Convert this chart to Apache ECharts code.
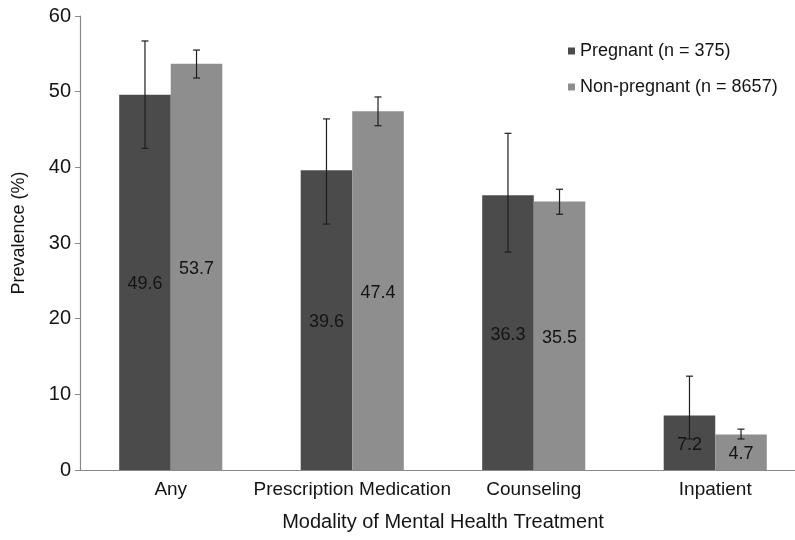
<!DOCTYPE html>
<html>
<head>
<meta charset="utf-8">
<script src="https://cdn.jsdelivr.net/npm/echarts@6/dist/echarts.min.js"></script>
<style>
  html, body { margin: 0; padding: 0; background: #fff; }
  #chart { width: 795px; height: 540px; }
</style>
</head>
<body>
<div id="chart"></div>
<script>
// Treatment modalities and prevalence (%) with 95% confidence limits
const categories = ['Any', 'Prescription Medication', 'Counseling', 'Inpatient'];
const seriesNames = ['Pregnant (n = 375)', 'Non-pregnant (n = 8657)'];
const pregnant = [49.6, 39.6, 36.3, 7.2];
const nonPregnant = [53.7, 47.4, 35.5, 4.7];
const pregnantLow = [42.5, 32.5, 28.8, 4.1];
const pregnantHigh = [56.7, 46.4, 44.5, 12.4];
const nonPregnantLow = [51.8, 45.5, 33.8, 4.1];
const nonPregnantHigh = [55.5, 49.3, 37.1, 5.4];

const FONT = '"Liberation Sans", Arial, Helvetica, sans-serif';
const TEXT = '#141414';
const DARK = '#4b4b4b';
const LIGHT = '#8e8e8e';
const BAR_FRACTION = 0.284; // bar width as a share of the category band

function errorData(low, high) {
  return categories.map((c, i) => [i, low[i], high[i]]);
}

// Draws a capped vertical whisker over the bar on one side of the band
function whisker(side) {
  return function (params, api) {
    const idx = api.value(0);
    const band = api.size([1, 0])[0];
    const cx = api.coord([idx, 0])[0] + side * band * BAR_FRACTION / 2;
    const yLo = api.coord([idx, api.value(1)])[1];
    const yHi = api.coord([idx, api.value(2)])[1];
    const cap = 3.5;
    const style = { stroke: '#1e1e1e', lineWidth: 1.2 };
    return {
      type: 'group',
      children: [
        { type: 'line', shape: { x1: cx, y1: yLo, x2: cx, y2: yHi }, style },
        { type: 'line', shape: { x1: cx - cap, y1: yHi, x2: cx + cap, y2: yHi }, style },
        { type: 'line', shape: { x1: cx - cap, y1: yLo, x2: cx + cap, y2: yLo }, style }
      ]
    };
  };
}

const labelStyle = {
  show: true,
  position: 'inside',
  offset: [0, 2],
  fontFamily: FONT,
  fontSize: 18,
  color: TEXT,
  formatter: p => p.value.toFixed(1)
};

const chart = echarts.init(document.getElementById('chart'), null, { renderer: 'canvas' });
chart.setOption({
  backgroundColor: '#ffffff',
  animation: false,
  textStyle: { fontFamily: FONT },
  grid: { left: 80, top: 16, bottom: 70, width: 726, outerBoundsMode: 'none', containLabel: false },
  legend: {
    orient: 'vertical',
    left: 563,
    top: 37,
    icon: 'rect',
    itemWidth: 7,
    itemHeight: 7,
    itemGap: 18,
    data: seriesNames,
    textStyle: { fontFamily: FONT, fontSize: 18, color: TEXT }
  },
  xAxis: {
    type: 'category',
    data: categories,
    name: 'Modality of Mental Health Treatment',
    nameLocation: 'middle',
    nameGap: 42,
    nameTextStyle: { fontFamily: FONT, fontSize: 20, color: TEXT },
    axisLine: { lineStyle: { color: '#8a8a8a', width: 1.2 } },
    axisTick: { show: false },
    axisLabel: { fontFamily: FONT, fontSize: 19, color: TEXT, margin: 10, interval: 0 }
  },
  yAxis: {
    type: 'value',
    min: 0,
    max: 60,
    interval: 10,
    name: 'Prevalence (%)',
    nameLocation: 'middle',
    nameGap: 52,
    nameTextStyle: { fontFamily: FONT, fontSize: 18, color: TEXT, padding: [0, 0, 0, 20] },
    axisLine: { show: true, lineStyle: { color: '#8a8a8a', width: 1.2 } },
    axisTick: { show: true, length: 5, lineStyle: { color: '#8a8a8a' } },
    axisLabel: { fontFamily: FONT, fontSize: 20, color: TEXT, margin: 9 },
    splitLine: { show: false }
  },
  series: [
    {
      name: seriesNames[0],
      type: 'bar',
      data: pregnant,
      barWidth: (BAR_FRACTION * 100) + '%',
      barGap: '0%',
      itemStyle: { color: DARK },
      label: labelStyle
    },
    {
      name: seriesNames[1],
      type: 'bar',
      data: nonPregnant,
      barWidth: (BAR_FRACTION * 100) + '%',
      barGap: '0%',
      itemStyle: { color: LIGHT },
      label: labelStyle
    },
    {
      name: 'Pregnant CI',
      type: 'custom',
      renderItem: whisker(-1),
      data: errorData(pregnantLow, pregnantHigh),
      encode: { x: 0, y: [1, 2] },
      z: 10,
      silent: true
    },
    {
      name: 'Non-pregnant CI',
      type: 'custom',
      renderItem: whisker(1),
      data: errorData(nonPregnantLow, nonPregnantHigh),
      encode: { x: 0, y: [1, 2] },
      z: 10,
      silent: true
    }
  ]
});
</script>
</body>
</html>
